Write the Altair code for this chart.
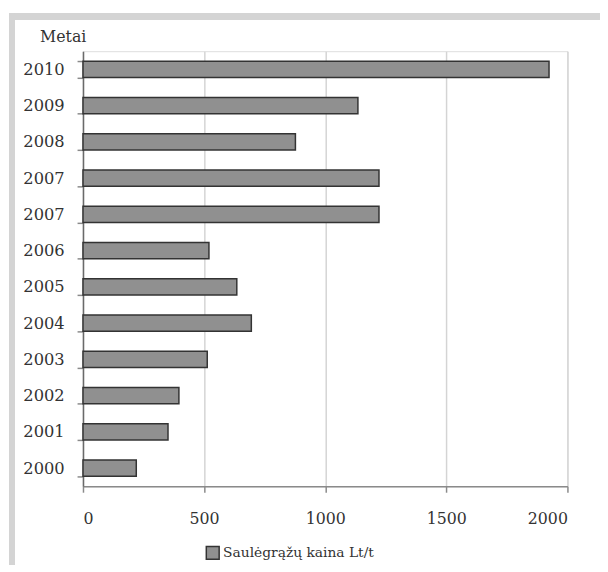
import altair as alt
import pandas as pd

years = ["2000", "2001", "2002", "2003", "2004", "2005", "2006", "2007", "2007", "2008", "2009", "2010"]
values = [220, 351, 396, 513, 695, 635, 520, 1222, 1222, 877, 1135, 1924]
series_name = "Saulėgrąžų kaina Lt/t"

df = pd.DataFrame({
    "idx": list(range(len(years))),
    "year": years,
    "value": values,
    "series": [series_name] * len(years),
})

label_expr = "[" + ",".join("'" + y + "'" for y in years) + "][datum.value]"
FONT = "DejaVu Serif"

bars = alt.Chart(df).mark_bar(stroke="#333333", strokeWidth=1.5).encode(
    x=alt.X("value:Q",
            scale=alt.Scale(domain=[0, 2000], nice=False),
            axis=alt.Axis(values=[0, 500, 1000, 1500, 2000], format="d", title=None,
                          grid=True, gridColor="#d4d4d4", gridWidth=1.5,
                          domainColor="#8a8a8a", domainWidth=1.5,
                          tickColor="#8a8a8a", tickSize=6, tickWidth=1.5,
                          labelFont=FONT, labelFontSize=16, labelColor="#333333",
                          labelPadding=19)),
    y=alt.Y("idx:O", sort="descending",
            scale=alt.Scale(paddingInner=0.55, paddingOuter=0.275),
            axis=alt.Axis(labelExpr=label_expr, title="Metai", grid=False,
                          tickBand="extent", tickSize=6, tickWidth=1.5,
                          tickColor="#8a8a8a", domainColor="#6a6a6a", domainWidth=1.5,
                          labelFont=FONT, labelFontSize=16.5, labelColor="#333333",
                          labelPadding=13,
                          titleFont=FONT, titleFontSize=16, titleFontWeight="normal",
                          titleColor="#333333", titleAngle=0, titleAlign="left",
                          titleBaseline="alphabetic", titleX=-44, titleY=-10)),
    color=alt.Color("series:N",
                    scale=alt.Scale(range=["#909090"]),
                    legend=alt.Legend(title=None, orient="none", legendX=124, legendY=501,
                                      symbolType="square", symbolSize=170,
                                      symbolStrokeColor="#333333", symbolStrokeWidth=1.5,
                                      labelFont=FONT, labelFontSize=14, labelColor="#333333",
                                      labelOffset=3, labelLimit=0)),
)

frame_left = alt.Chart(df).mark_rule(color="#d4d4d4", strokeWidth=6).encode(
    x=alt.value(-72), y=alt.value(-38), y2=alt.value(520))
frame_top = alt.Chart(df).mark_rule(color="#d4d4d4", strokeWidth=6).encode(
    y=alt.value(-35), x=alt.value(-75), x2=alt.value(530))

chart = alt.layer(frame_left, frame_top, bars).properties(
    width=491, height=441,
    autosize=alt.AutoSizeParams(type="none"),
    padding={"left": 76, "top": 40, "right": 33, "bottom": 76},
).configure_view(stroke="#d4d4d4", strokeWidth=1.5).configure(background="white", font=FONT)

chart.save("out.html", embed_options={"renderer": "svg", "actions": False})
